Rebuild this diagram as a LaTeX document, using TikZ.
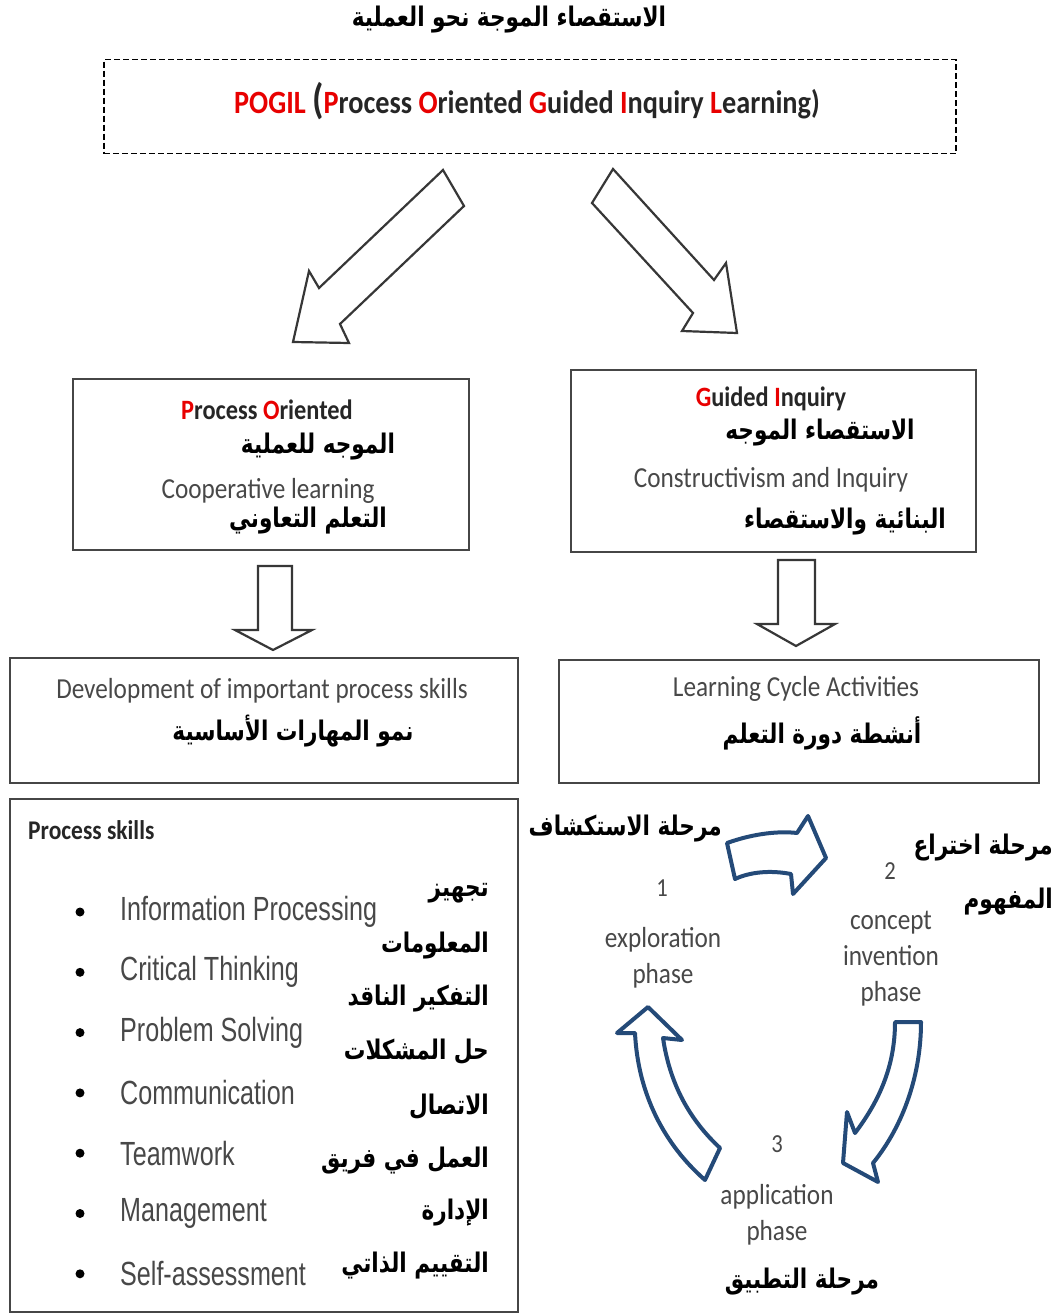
\documentclass[tikz,border=0pt]{standalone}
\usepackage{fontspec}
\usepackage{tikz}
\usetikzlibrary{calc}

\TeXXeTstate=1
\newfontfamily\calib[FakeStretch=0.87]{Carlito}
\newfontfamily\narrowsans[FakeStretch=0.75]{Liberation Sans}
\newfontfamily\arabicfont[Script=Arabic, FakeStretch=0.8]{DejaVu Sans}
\newcommand{\artext}[1]{{\arabicfont\bfseries\beginR #1\endR}}
\newcommand{\rd}[1]{\textcolor{pogred}{#1}}

\definecolor{pogred}{RGB}{232,0,0}
\definecolor{boxgray}{RGB}{70,70,70}
\definecolor{txtgray}{RGB}{72,72,72}
\definecolor{arrowgray}{RGB}{55,55,55}
\definecolor{cycleblue}{RGB}{36,74,120}

\begin{document}
\begin{tikzpicture}[x=1pt, y=-1pt,
    box/.style={draw=boxgray, line width=1.8pt, anchor=north west, inner sep=0pt},
    blockarrow/.style={draw=arrowgray, line width=2.2pt, fill=white, line join=miter},
    cyclearrow/.style={draw=cycleblue, line width=4pt, fill=white, line join=round},
    entxt/.style={font=\calib\fontsize{29}{33}\selectfont, text=txtgray, inner sep=0pt},
    headtxt/.style={font=\calib\bfseries\fontsize{28}{34}\selectfont, text=black!85, inner sep=0pt},
    listtxt/.style={font=\narrowsans\fontsize{33.5}{38}\selectfont, text=txtgray, inner sep=0pt},
    phasetxt/.style={font=\calib\fontsize{29}{36}\selectfont, text=txtgray, inner sep=0pt, align=center},
    artxt/.style={font=\fontsize{27}{31}\selectfont, text=black, inner sep=0pt}]

    % 1. Page frame
    \useasboundingbox (0,0) rectangle (1060,1313);

    % 2. Title and POGIL box
    \node[artxt] (title) at (509,20) {\artext{الاستقصاء الموجة نحو العملية}};
    \node[draw=black, line width=1.5pt, dash pattern=on 6pt off 3pt, anchor=north west,
          minimum width=852, minimum height=94, inner sep=0pt] (pogilbox) at (103,59) {};
    \node[headtxt, font=\calib\bfseries\fontsize{32.5}{36}\selectfont] (pogil) at (527,101)
        {\rd{POGIL} {\fontsize{42}{42}\selectfont(}\rd{P}rocess \rd{O}riented \rd{G}uided \rd{I}nquiry \rd{L}earning)};

    % 3. Big hollow arrows from the POGIL box
    \draw[blockarrow] (443,170) -- (464,206) -- (340,324) -- (349,343) -- (293,342)
        -- (309,271) -- (319,288) -- cycle;
    \draw[blockarrow] (613,169) -- (592,203) -- (693,313) -- (682,331) -- (737,333)
        -- (726,263) -- (714,280) -- cycle;

    % 4. Process Oriented box (left)
    \node[box, minimum width=396, minimum height=171] (pobox) at (72,378) {};
    \node[headtxt] (po) at (267,410) {\rd{P}rocess \rd{O}riented};
    \node[artxt] (poar) at (318,447) {\artext{الموجه للعملية}};
    \node[entxt] (coop) at (268,491) {Cooperative learning};
    \node[artxt] (coopar) at (308,521) {\artext{التعلم التعاوني}};

    % 5. Guided Inquiry box (right)
    \node[box, minimum width=405, minimum height=182] (gibox) at (570,369) {};
    \node[headtxt] (gi) at (771,399) {\rd{G}uided \rd{I}nquiry};
    \node[artxt] (giar) at (820,433) {\artext{الاستقصاء الموجه}};
    \node[entxt] (constr) at (771,480) {Constructivism and Inquiry};
    \node[artxt] (constrar) at (845,522) {\artext{البنائية والاستقصاء}};

    % 6. Down arrows
    \draw[blockarrow] (258,566) -- (292,566) -- (292,630) -- (312,630) -- (273,650)
        -- (235,630) -- (258,630) -- cycle;
    \draw[blockarrow] (778,560) -- (815,560) -- (815,624) -- (835,624) -- (796,646)
        -- (757,624) -- (778,624) -- cycle;

    % 7. Development and Learning Cycle boxes
    \node[box, minimum width=508, minimum height=125] (devbox) at (9,657) {};
    \node[entxt] (dev) at (262,691) {Development of important process skills};
    \node[artxt] (devar) at (293,731) {\artext{نمو المهارات الأساسية}};
    \node[box, minimum width=480, minimum height=123] (lcbox) at (558,659) {};
    \node[entxt] (lc) at (796,689) {Learning Cycle Activities};
    \node[artxt] (lcar) at (822,733) {\artext{أنشطة دورة التعلم}};

    % 8. Process skills list
    \node[box, minimum width=508, minimum height=513] (psbox) at (9,798) {};
    \node[headtxt, font=\calib\bfseries\fontsize{27}{32}\selectfont, anchor=west] (ps) at (28,830) {Process skills};
    \foreach \i/\skill in {1/Information Processing, 2/Critical Thinking, 3/Problem Solving,
        4/Communication, 5/Teamwork, 6/Management, 7/Self-assessment} {
        \fill[black] (80,851.7+60.3*\i) circle (4.5);
        \node[listtxt, anchor=west] (skill\i) at (120,851.7+60.3*\i) {\skill};
    }
    \foreach \i/\y/\word in {1/893/تجهيز, 2/946/المعلومات, 3/999/التفكير الناقد, 4/1052/حل المشكلات,
        5/1107/الاتصال, 6/1161/العمل في فريق, 7/1213/الإدارة, 8/1266/التقييم الذاتي} {
        \node[artxt, anchor=east] (skillar\i) at (489,\y) {\artext{\word}};
    }

    % 9. Learning cycle phases
    \node[artxt, anchor=east] (ph1ar) at (722,829) {\artext{مرحلة الاستكشاف}};
    \node[phasetxt, font=\calib\fontsize{26}{30}\selectfont] (ph1num) at (662,888) {1};
    \node[phasetxt] (ph1) at (663,958) {exploration\\phase};
    \node[artxt, anchor=east] (ph2ar) at (1053,848) {\artext{مرحلة اختراع}};
    \node[artxt, anchor=east] (ph2arb) at (1053,902) {\artext{المفهوم}};
    \node[phasetxt, font=\calib\fontsize{26}{30}\selectfont] (ph2num) at (890,871) {2};
    \node[phasetxt] (ph2) at (891,959) {concept\\invention\\phase};
    \node[phasetxt, font=\calib\fontsize{26}{30}\selectfont] (ph3num) at (777,1144) {3};
    \node[phasetxt] (ph3) at (777,1215) {application\\phase};
    \node[artxt] (ph3ar) at (802,1282) {\artext{مرحلة التطبيق}};

    % 10. Curved cycle arrows
    \draw[cyclearrow] (727,843) .. controls (755,833) and (780,831) .. (797,833) -- (808,816)
        -- (826,858) -- (793,894) -- (791,874) .. controls (770,870) and (750,872) .. (735,879) -- cycle;
    \draw[cyclearrow] (895,1022) -- (921,1022) .. controls (921,1080) and (900,1130) .. (873,1163)
        -- (878,1182) -- (843,1163) -- (847,1112) -- (855,1133)
        .. controls (880,1100) and (895,1065) .. (895,1022) -- cycle;
    \draw[cyclearrow] (648,1007) -- (682,1040) -- (663,1038) .. controls (670,1085) and (690,1120) .. (720,1148)
        -- (705,1180) .. controls (665,1145) and (638,1095) .. (635,1033) -- (617,1033) -- cycle;
\end{tikzpicture}
\end{document}
